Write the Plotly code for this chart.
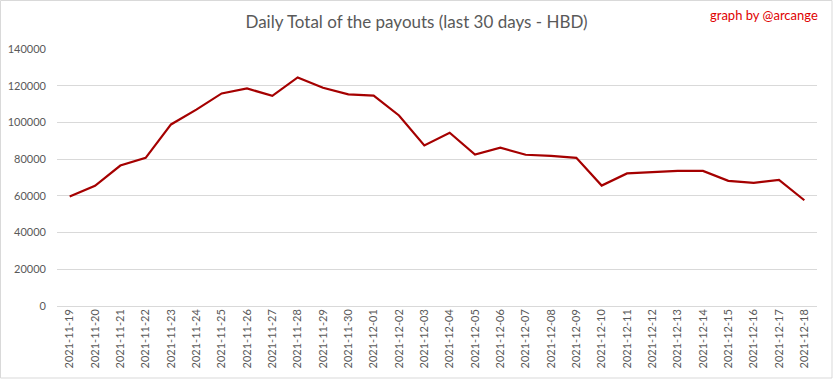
import plotly.graph_objects as go

dates = ["2021-11-19", "2021-11-20", "2021-11-21", "2021-11-22", "2021-11-23", "2021-11-24",
         "2021-11-25", "2021-11-26", "2021-11-27", "2021-11-28", "2021-11-29", "2021-11-30",
         "2021-12-01", "2021-12-02", "2021-12-03", "2021-12-04", "2021-12-05", "2021-12-06",
         "2021-12-07", "2021-12-08", "2021-12-09", "2021-12-10", "2021-12-11", "2021-12-12",
         "2021-12-13", "2021-12-14", "2021-12-15", "2021-12-16", "2021-12-17", "2021-12-18"]
payouts = [59600, 65500, 76500, 80700, 98900, 107000, 115800, 118500, 114500, 124500,
           118900, 115300, 114600, 103800, 87500, 94400, 82500, 86200, 82400, 81800,
           80700, 65600, 72200, 72700, 73600, 73600, 68200, 67100, 68700, 57600]
y_ticks = [0, 20000, 40000, 60000, 80000, 100000, 120000, 140000]

FONT = "Lato, 'Open Sans', sans-serif"

fig = go.Figure()
fig.add_trace(go.Scatter(x=dates, y=payouts, mode="lines",
                         line=dict(color="#A50000", width=2.2), hoverinfo="x+y"))

fig.update_layout(
    width=833, height=379,
    margin=dict(l=57, r=16, t=49, b=73),
    paper_bgcolor="white", plot_bgcolor="white",
    showlegend=False,
    font=dict(family=FONT, color="#595959"),
    title=dict(text="Daily Total of the payouts (last 30 days - HBD)",
               x=0.5, xanchor="center", y=0.942, yanchor="middle",
               font=dict(size=17, color="#595959", family=FONT)),
    xaxis=dict(type="category", tickangle=-90, tickfont=dict(size=11, color="#595959"),
               range=[-0.5, len(dates) - 0.5], automargin=False,
               showgrid=False, showline=False, ticks="", zeroline=False),
    yaxis=dict(range=[0, 140000], tickvals=y_ticks, ticktext=[str(v) for v in y_ticks],
               tickfont=dict(size=11, color="#595959"), gridcolor="#D9D9D9", gridwidth=1,
               zeroline=True, zerolinecolor="#D9D9D9", zerolinewidth=1, automargin=False,
               showline=False, ticks="", ticklabelstandoff=10),
    annotations=[dict(text="graph by @arcange", xref="paper", yref="paper",
                      x=1 + 3/760, y=1.0, xanchor="right", yanchor="middle",
                      yshift=34, showarrow=False,
                      font=dict(size=13, color="#E00000", family=FONT))],
    shapes=[dict(type="rect", xref="paper", yref="paper",
                 x0=-56.5/760, x1=1 + 15/760, y0=-72/257, y1=1 + 48.5/257,
                 line=dict(color="#D9D9D9", width=1), fillcolor="rgba(0,0,0,0)")],
)

fig.write_html("out.html", config={"displayModeBar": False},
               post_script="document.body.style.margin='0';document.body.style.padding='0';")
